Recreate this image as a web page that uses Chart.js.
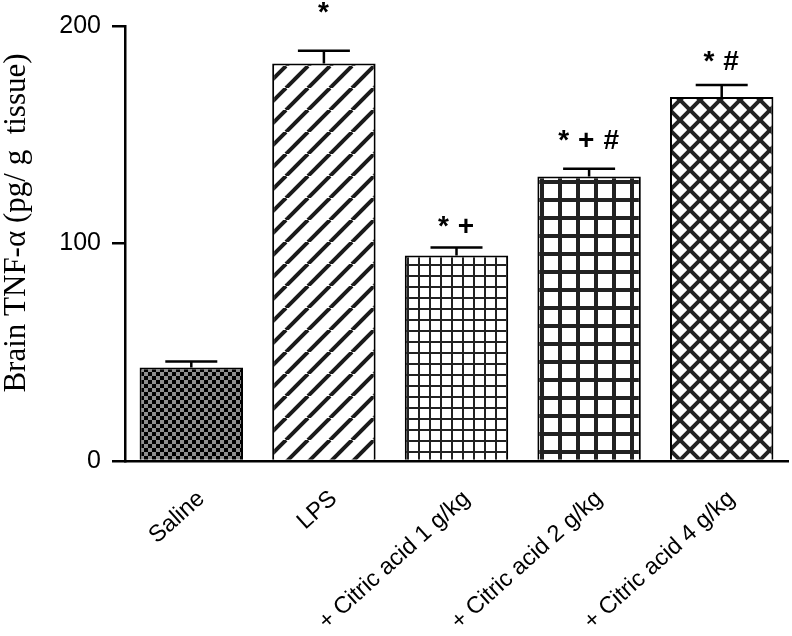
<!DOCTYPE html>
<html>
<head>
<meta charset="utf-8">
<script src="https://cdn.jsdelivr.net/npm/chart.js@4"></script>
<style>
  body { margin: 0; background: #fff; }
  #wrap { width: 792px; height: 636px; position: relative; }
</style>
</head>
<body>
<div id="wrap"><canvas id="myChart"></canvas></div>
<script>
const categories = ["Saline", "LPS", "+ Citric acid 1 g/kg", "+ Citric acid 2 g/kg", "+ Citric acid 4 g/kg"];
const meanValues = [43, 182.8, 94.5, 130.8, 167.4];
const semValues = [2.7, 5.8, 3.7, 3.6, 5.5];
const signifMarks = ["", "*", "*+", "*+#", "*#"];
const yTickValues = [0, 100, 200];
const yTitle = "Brain TNF-\u03b1 (pg/ g  tissue)";

// how far each mark sits above its error cap (px)
const markGap = [0, 30, 12, 20, 15];

// small pattern tiles for the bar fills
function makePattern(size, draw) {
    const c = document.createElement("canvas");
    c.width = size; c.height = size;
    const g = c.getContext("2d");
    g.fillStyle = "#fff";
    g.fillRect(0, 0, size, size);
    draw(g, size);
    return g.createPattern(c, "repeat");
}

const checker = makePattern(8, function (g, s) {
    g.fillStyle = "#8e8e8e";
    g.fillRect(0, 0, s, s);
    g.fillStyle = "#000";
    g.fillRect(0, 0, 4, 4);
    g.fillRect(4, 4, 4, 4);
});
const diagonal = makePattern(22, function (g, s) {
    g.strokeStyle = "#1a1a1a";
    g.lineWidth = 4;
    [-s, 0, s].forEach(k => { g.beginPath(); g.moveTo(k, s); g.lineTo(k + s, 0); g.stroke(); });
});
const thinGrid = makePattern(11, function (g, s) {
    g.fillStyle = "#222";
    g.fillRect(0, 0, s, 2);
    g.fillRect(0, 0, 2, s);
});
const thickGrid = makePattern(18, function (g, s) {
    g.fillStyle = "#222";
    g.fillRect(0, 0, s, 4);
    g.fillRect(0, 0, 4, s);
});
const crossHatch = makePattern(20, function (g, s) {
    g.strokeStyle = "#222";
    g.lineWidth = 4;
    [-s, 0, s].forEach(k => {
        g.beginPath(); g.moveTo(k, s); g.lineTo(k + s, 0); g.stroke();
        g.beginPath(); g.moveTo(k, 0); g.lineTo(k + s, s); g.stroke();
    });
});

// error bars + significance marks + y title
const extrasPlugin = {
    id: "extras",
    afterDatasetsDraw(chart) {
        const c = chart.ctx;
        const yScale = chart.scales.y;
        const meta = chart.getDatasetMeta(0);
        c.save();
        c.strokeStyle = "#000";
        c.lineWidth = 2.5;
        meta.data.forEach((bar, i) => {
            const yTop = yScale.getPixelForValue(meanValues[i] + semValues[i]);
            c.beginPath();
            c.moveTo(bar.x, bar.y);
            c.lineTo(bar.x, yTop);
            c.moveTo(bar.x - 26, yTop);
            c.lineTo(bar.x + 26, yTop);
            c.stroke();
            if (signifMarks[i]) {
                c.fillStyle = "#000";
                c.font = "bold 28px 'Liberation Sans', Arial, sans-serif";
                c.letterSpacing = "9px";
                c.textAlign = "center";
                c.textBaseline = "alphabetic";
                c.fillText(signifMarks[i], bar.x + 4, yTop - markGap[i]);
            }
        });
        c.letterSpacing = "0px";
        c.translate(17, 223);
        c.rotate(-Math.PI / 2);
        c.fillStyle = "#000";
        c.font = "31px 'Liberation Serif', 'Times New Roman', serif";
        c.textAlign = "center";
        c.textBaseline = "middle";
        c.fillText(yTitle, 0, 0);
        c.restore();
    }
};

const ctx = document.getElementById("myChart").getContext("2d");
new Chart(ctx, {
    type: "bar",
    data: {
        labels: categories,
        datasets: [{
            data: meanValues,
            backgroundColor: [checker, diagonal, thinGrid, thickGrid, crossHatch],
            borderColor: "#000",
            borderWidth: 2,
            borderSkipped: "bottom",
            categoryPercentage: 0.78,
            barPercentage: 1
        }]
    },
    options: {
        responsive: true,
        maintainAspectRatio: false,
        animation: false,
        layout: { padding: { top: 19, right: 4, left: 0, bottom: 0 } },
        plugins: { legend: { display: false }, tooltip: { enabled: false } },
        scales: {
            x: {
                afterFit: s => { s.height = 175; },
                grid: { drawOnChartArea: false, drawTicks: false },
                border: { display: true, color: "#000", width: 2.5 },
                ticks: {
                    color: "#000",
                    maxRotation: 42,
                    minRotation: 42,
                    padding: 24,
                    labelOffset: 10,
                    autoSkip: false,
                    font: { family: "'Liberation Sans', Arial, sans-serif", size: 23.5 }
                }
            },
            y: {
                min: 0,
                max: 200,
                afterFit: s => { s.width = 125; },
                afterBuildTicks: s => { s.ticks = yTickValues.map(v => ({ value: v })); },
                grid: { drawOnChartArea: false, drawTicks: true, tickLength: 13, color: "#000", lineWidth: 2.5 },
                border: { display: true, color: "#000", width: 2.5 },
                ticks: {
                    color: "#000",
                    padding: 11,
                    font: { family: "'Liberation Sans', Arial, sans-serif", size: 25 }
                }
            }
        }
    },
    plugins: [extrasPlugin]
});
</script>
</body>
</html>
